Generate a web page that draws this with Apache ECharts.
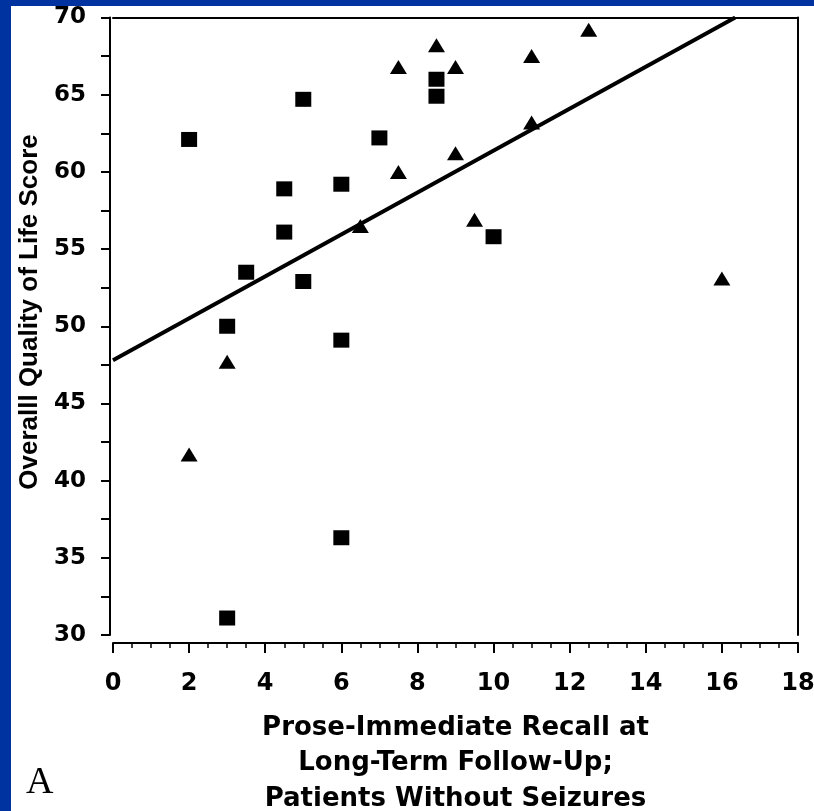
<!DOCTYPE html>
<html>
<head>
<meta charset="utf-8">
<script src="https://cdn.jsdelivr.net/npm/echarts@6/dist/echarts.min.js"></script>
<style>
  html, body { margin: 0; padding: 0; background: #ffffff; }
  #wrap { position: relative; width: 814px; height: 811px; overflow: hidden; background: #ffffff; }
  #chart { position: absolute; left: 0; top: 0; width: 814px; height: 811px; }
  .blue-left { position: absolute; left: 0; top: 0; width: 11px; height: 811px; background: #0033a0; z-index: 5; }
  .blue-top { position: absolute; left: 0; top: 0; width: 814px; height: 6px; background: #0033a0; z-index: 5; }
</style>
</head>
<body>
<div id="wrap">
  <div id="chart"></div>
  <div class="blue-left"></div>
  <div class="blue-top"></div>
</div>
<script>
// ---- data ----
const squareX = [2, 5, 8.5, 8.5, 7, 4.5, 6, 4.5, 3.5, 5, 3, 6, 10, 6, 3];
const squareY = [62.1, 64.7, 66.0, 64.9, 62.2, 58.9, 59.2, 56.1, 53.5, 52.9, 50.0, 49.1, 55.8, 36.3, 31.1];
const triangleX = [8.5, 7.5, 9, 9, 7.5, 6.5, 9.5, 3, 12.5, 11, 11, 16, 2];
const triangleY = [68.2, 66.8, 66.8, 61.2, 60.0, 56.5, 56.9, 47.7, 69.2, 67.5, 63.2, 53.1, 41.7];
const fitLineX = [0, 16.35];
const fitLineY = [47.8, 70];
const xTickLabels = ['0', '2', '4', '6', '8', '10', '12', '14', '16', '18'];
const yTickLabels = ['30', '35', '40', '45', '50', '55', '60', '65', '70'];
const xTitle = 'Prose-Immediate Recall at\nLong-Term Follow-Up;\nPatients Without Seizures';
const yTitle = 'Overalll Quality of Life Score';
const panelLabel = 'A';

const pairs = (xs, ys) => xs.map((x, i) => [x, ys[i]]);

const chart = echarts.init(document.getElementById('chart'), null, { renderer: 'canvas' });
const font = 'DejaVu Sans';

chart.setOption({
  animation: false,
  backgroundColor: '#ffffff',
  grid: { left: 113, right: 16, top: 17.5, bottom: 176, containLabel: false, outerBoundsMode: 'none' },
  xAxis: [
    {
      type: 'value', min: 0, max: 18, interval: 2, position: 'bottom', offset: 8,
      axisLine: { show: true, onZero: false, lineStyle: { color: '#000', width: 2 } },
      axisTick: { show: true, inside: false, length: 10, lineStyle: { color: '#000', width: 2 } },
      minorTick: { show: true, splitNumber: 4, length: 5, lineStyle: { color: '#000', width: 1.5 } },
      splitLine: { show: false },
      axisLabel: {
        margin: 29, color: '#000', fontFamily: font, fontWeight: 'bold', fontSize: 24,
        formatter: (v) => { const s = String(v); return xTickLabels.indexOf(s) >= 0 ? s : ''; }
      },
      name: xTitle, nameLocation: 'middle', nameGap: 67,
      nameTextStyle: { color: '#000', fontFamily: font, fontWeight: 'bold', fontSize: 26, lineHeight: 35.5, align: 'center' }
    },
    {
      type: 'value', min: 0, max: 18, position: 'top',
      axisLine: { show: true, onZero: false, lineStyle: { color: '#000', width: 2 } },
      axisTick: { show: false }, axisLabel: { show: false }, splitLine: { show: false }
    }
  ],
  yAxis: [
    {
      type: 'value', min: 30, max: 70, interval: 2.5, position: 'left', offset: 3,
      axisLine: { show: true, onZero: false, lineStyle: { color: '#000', width: 2 } },
      axisTick: { show: true, inside: false, length: 9, lineStyle: { color: '#000', width: 2 } },
      splitLine: { show: false },
      axisLabel: {
        margin: 24, color: '#000', fontFamily: font, fontWeight: 'bold', fontSize: 23,
        formatter: (v) => { const s = String(v); return yTickLabels.indexOf(s) >= 0 ? s : ''; }
      }
    },
    {
      type: 'value', min: 30, max: 70, position: 'right',
      axisLine: { show: true, onZero: false, lineStyle: { color: '#000', width: 2 } },
      axisTick: { show: false }, axisLabel: { show: false }, splitLine: { show: false }
    }
  ],
  graphic: [
    {
      type: 'text', x: 30, y: 312, rotation: Math.PI / 2,
      style: { text: yTitle, fill: '#000', font: 'bold 26px "Liberation Sans", Arial, sans-serif', textAlign: 'center', textVerticalAlign: 'middle' }
    },
    {
      type: 'text', left: 26, top: 764,
      style: { text: panelLabel, fill: '#000', font: '38px "Liberation Serif", "Times New Roman", serif' }
    }
  ],
  series: [
    {
      type: 'line', xAxisIndex: 0, yAxisIndex: 0,
      data: pairs(fitLineX, fitLineY),
      symbol: 'none', lineStyle: { color: '#000', width: 4 }, z: 2, silent: true
    },
    {
      type: 'scatter', xAxisIndex: 0, yAxisIndex: 0,
      data: pairs(squareX, squareY),
      symbol: 'rect', symbolSize: [16, 15], itemStyle: { color: '#000', opacity: 1 }, z: 3, clip: false
    },
    {
      type: 'scatter', xAxisIndex: 0, yAxisIndex: 0,
      data: pairs(triangleX, triangleY),
      symbol: 'triangle', symbolSize: [17, 14], itemStyle: { color: '#000', opacity: 1 }, z: 3, clip: false
    }
  ]
});
</script>
</body>
</html>
